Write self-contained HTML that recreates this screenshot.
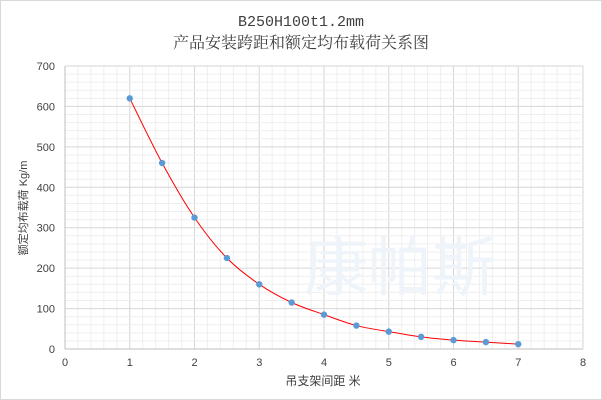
<!DOCTYPE html><html><head><meta charset="utf-8"><style>
body{margin:0;background:#fff}
svg{display:block}
text{font-family:"Liberation Sans","Noto Sans CJK SC",sans-serif;fill:#404040}
</style></head><body>
<svg id="s" width="602" height="400" xmlns="http://www.w3.org/2000/svg">
<rect x="0.5" y="0.5" width="601" height="399" fill="#fff" stroke="#d9d9d9"/>
<text x="301" y="26" text-anchor="middle" font-size="15" style="font-family:'Liberation Mono','Noto Serif CJK SC',monospace">B250H100t1.2mm</text>
<text x="301" y="48" text-anchor="middle" font-size="16" style="font-family:'Noto Serif CJK SC',serif">产品安装跨距和额定均布载荷关系图</text>
<g id="g"></g>
<text x="323" y="385" text-anchor="middle" font-size="12">吊支架间距 米</text>
<text transform="translate(27,208) rotate(-90)" text-anchor="middle" font-size="11">额定均布载荷 Kg/m</text>
</svg>
<script>
const g=document.getElementById('g');let h='';
const X=v=>65+v*64.75, Y=v=>349-v*0.4043;
for(let i=0;i<=40;i++){const x=X(i*0.2);h+=`<line x1="${x}" y1="66" x2="${x}" y2="349" stroke="${i%5?'#efefef':'#d6d6d6'}"/>`;}
for(let i=0;i<=35;i++){const y=Y(i*20);h+=`<line x1="65" y1="${y}" x2="583" y2="${y}" stroke="${i%5?'#efefef':'#d6d6d6'}"/>`;}
h+=`<line x1="65" y1="349" x2="583" y2="349" stroke="#bfbfbf"/><line x1="65" y1="66" x2="65" y2="349" stroke="#bfbfbf"/>`;
for(let i=0;i<=8;i++)h+=`<text x="${X(i)}" y="366" text-anchor="middle" font-size="11">${i}</text>`;
for(let i=0;i<=7;i++)h+=`<text x="55" y="${Y(i*100)+4}" text-anchor="end" font-size="11">${i*100}</text>`;
// watermark
h+=`<text x="400" y="290" text-anchor="middle" font-size="64" style="fill:#eef4fa">康帕斯</text>`;
const d=[[1,620],[1.5,460],[2,325],[2.5,225],[3,160],[3.5,115],[4,85],[4.5,58],[5,43],[5.5,30],[6,22],[6.5,17],[7,12]];
let p='';for(let t=1;t<=7.001;t+=0.05){const v=620*Math.pow(t,-1)*Math.exp(-0.39*(t-1))*0+0;}
// smooth curve via Catmull-Rom
const P=d.map(a=>[X(a[0]),Y(a[1])]);p=`M${P[0]}`;
for(let i=0;i<P.length-1;i++){const p0=P[i-1]||P[i],p1=P[i],p2=P[i+1],p3=P[i+2]||p2;
p+=` C${p1[0]+(p2[0]-p0[0])/6},${p1[1]+(p2[1]-p0[1])/6} ${p2[0]-(p3[0]-p1[0])/6},${p2[1]-(p3[1]-p1[1])/6} ${p2[0]},${p2[1]}`;}
h+=`<path d="${p}" fill="none" stroke="#ff0000" stroke-width="1"/>`;
P.forEach(q=>h+=`<circle cx="${q[0]}" cy="${q[1]}" r="3.2" fill="#5b9bd5"/>`);
g.innerHTML=h;
</script>
</body></html>
